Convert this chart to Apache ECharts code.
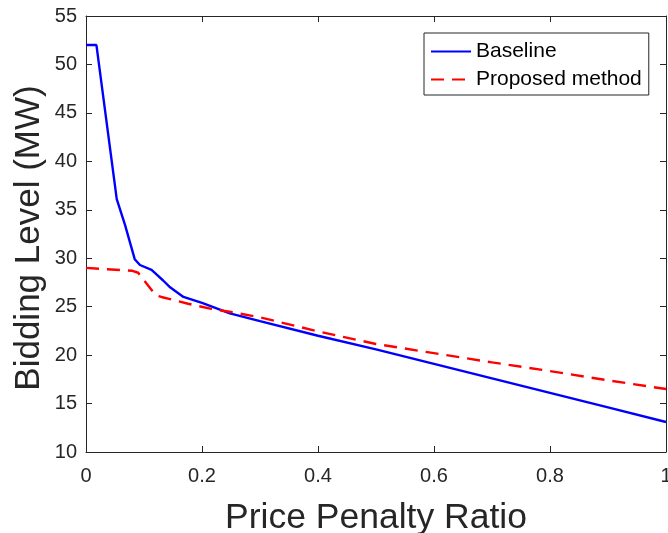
<!DOCTYPE html>
<html>
<head>
<meta charset="utf-8">
<script src="https://cdn.jsdelivr.net/npm/echarts@6/dist/echarts.min.js"></script>
<style>
html,body{margin:0;padding:0;background:#fff;}
#chart{width:668px;height:533px;}
</style>
</head>
<body>
<div id="chart"></div>
<script>
// ---- data ----
var baselineX = [0, 0.018, 0.053, 0.067, 0.084, 0.093, 0.113, 0.122, 0.133, 0.145, 0.168, 0.2, 0.248, 0.3, 0.4, 0.5, 0.6, 0.7, 0.8, 0.9, 1.0];
var baselineY = [52, 52, 36.1, 33.5, 29.9, 29.3, 28.8, 28.3, 27.7, 27.0, 26.0, 25.4, 24.3, 23.5, 22.0, 20.6, 19.1, 17.6, 16.1, 14.6, 13.1];
var proposedX = [0, 0.08, 0.09, 0.12, 0.13, 0.176, 0.214, 0.25, 0.3, 0.4, 0.5, 0.6, 0.7, 0.8, 0.9, 1.0];
var proposedY = [29.0, 28.7, 28.5, 26.2, 26.0, 25.3, 24.8, 24.45, 23.9, 22.45, 21.15, 20.2, 19.25, 18.35, 17.4, 16.5];
var seriesNames = ['Baseline', 'Proposed method'];
var xTitle = 'Price Penalty Ratio';
var yTitle = 'Bidding Level (MW)';

function pairs(xs, ys) { return xs.map(function (x, i) { return [x, ys[i]]; }); }

var FONT = '"Liberation Sans", Arial, Helvetica, sans-serif';
var AX = '#262626';

var chart = echarts.init(document.getElementById('chart'), null, {renderer: 'canvas'});
var axisCommon = {
  axisLine: {show: true, onZero: false, lineStyle: {color: AX, width: 1}},
  axisTick: {show: true, inside: true, length: 6, lineStyle: {color: AX, width: 1}},
  splitLine: {show: false}
};
chart.setOption({
  backgroundColor: '#ffffff',
  animation: false,
  grid: {left: 86, right: 2, top: 16, bottom: 81, containLabel: false, outerBoundsMode: 'none'},
  legend: {
    orient: 'vertical',
    left: 424, top: 33,
    padding: [8, 7, 5, 6],
    itemGap: 7,
    itemWidth: 40, itemHeight: 14,
    itemStyle: {opacity: 0},
    backgroundColor: '#ffffff',
    borderColor: AX, borderWidth: 1,
    textStyle: {fontFamily: FONT, fontSize: 21, color: '#000000'},
    data: seriesNames
  },
  xAxis: [
    Object.assign({
      type: 'value', min: 0, max: 1, interval: 0.2, position: 'bottom',
      name: xTitle, nameLocation: 'middle', nameGap: 48, nameMoveOverlap: false,
      nameTextStyle: {fontFamily: FONT, fontSize: 35.5, color: AX},
      axisLabel: {fontFamily: FONT, fontSize: 20, color: AX, margin: 14}
    }, axisCommon),
    Object.assign({
      type: 'value', min: 0, max: 1, interval: 0.2, position: 'top',
      axisLabel: {show: false}
    }, axisCommon)
  ],
  yAxis: [
    Object.assign({
      type: 'value', min: 10, max: 55, interval: 5, position: 'left',
      name: yTitle, nameLocation: 'middle', nameGap: 39, nameMoveOverlap: false,
      nameTextStyle: {fontFamily: FONT, fontSize: 35, color: AX, padding: [0, 8, 0, 0]},
      axisLabel: {fontFamily: FONT, fontSize: 20, color: AX, margin: 9}
    }, axisCommon),
    Object.assign({
      type: 'value', min: 10, max: 55, interval: 5, position: 'right',
      axisLabel: {show: false}
    }, axisCommon)
  ],
  series: [
    {
      name: seriesNames[0], type: 'line', xAxisIndex: 0, yAxisIndex: 0,
      data: pairs(baselineX, baselineY),
      symbol: 'none', smooth: false,
      lineStyle: {color: '#0000ff', width: 2.4},
      itemStyle: {color: '#0000ff'}
    },
    {
      name: seriesNames[1], type: 'line', xAxisIndex: 0, yAxisIndex: 0,
      data: pairs(proposedX, proposedY),
      symbol: 'none', smooth: false,
      lineStyle: {color: '#ff0000', width: 2.4, type: [13, 8]},
      itemStyle: {color: '#ff0000'}
    }
  ]
});
</script>
</body>
</html>
